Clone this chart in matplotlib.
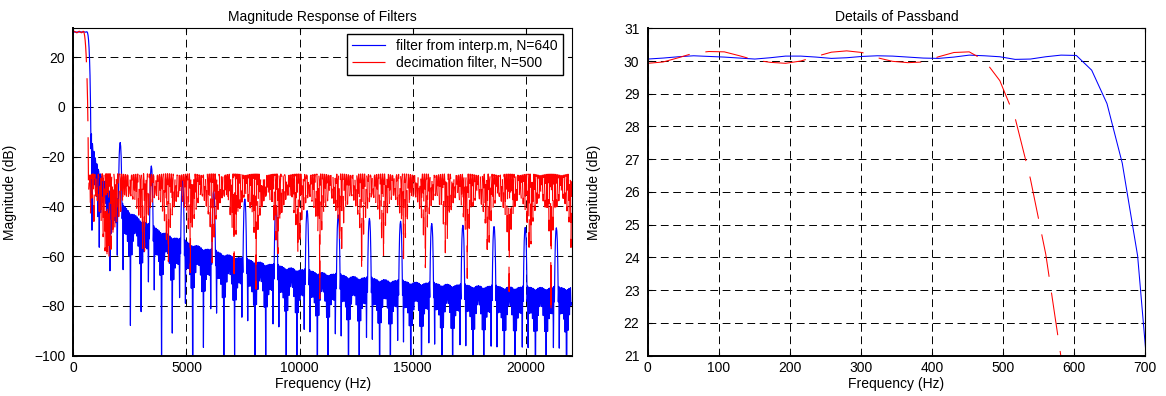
import numpy as np
import matplotlib
matplotlib.use('Agg')
import matplotlib.pyplot as plt

# Sampling rate and number of frequency points (as freqz(b, 1, 1024, fs))
fs = 44100
n_points = 1024

# Filter from interp.m: factor r, half length l, bandlimit alpha -> order 2*l*r = 640
interp_r = 32
interp_l = 10
interp_alpha = 0.9

# Decimation filter: order, pass/stop edges (Hz), gain, stopband weight
decim_order = 500
decim_edges = [470, 660]
decim_gain = 32
decim_stop_weight = 24

# Details of the passband (Hz, dB)
detail_freq = [0, 21.5, 43.1, 64.6, 86.1, 107.7, 129.2, 150.7, 172.3, 193.8,
               215.3, 236.9, 258.4, 279.9, 301.5, 323.0, 344.5, 366.1, 387.6, 409.1,
               430.7, 452.2, 473.7, 495.3, 516.8, 538.3, 559.9, 581.4, 602.9, 624.5,
               646.0, 667.5, 689.1, 710.6]
detail_interp_db = [30.06, 30.09, 30.13, 30.16, 30.14, 30.12, 30.09, 30.06, 30.10, 30.15,
                    30.15, 30.12, 30.08, 30.10, 30.14, 30.16, 30.15, 30.12, 30.09, 30.08,
                    30.12, 30.18, 30.16, 30.13, 30.05, 30.06, 30.13, 30.18, 30.17, 29.72,
                    28.70, 26.88, 24.05, 18.6]
detail_decim_db = [29.93, 29.97, 30.10, 30.24, 30.29, 30.28, 30.16, 30.03, 29.96, 29.93,
                   30.00, 30.14, 30.27, 30.31, 30.26, 30.10, 29.99, 29.95, 29.97, 30.13,
                   30.26, 30.28, 30.02, 29.40, 28.26, 26.40, 24.10, 20.95, 16.5]

labels = ['filter from interp.m, N=640', 'decimation filter, N=500']

plt.rcParams['font.family'] = ['Liberation Sans', 'DejaVu Sans']
plt.rcParams['font.size'] = 10
plt.rcParams['lines.scale_dashes'] = False


# Least squares linear phase FIR (type I), optional Lawson iterations for equiripple
def design_ls_fir(order, bands, desired, weights, step=4.0, lawson_iters=0):
    half = order // 2
    grid, target, wt = [], [], []
    for (f1, f2), d, w in zip(bands, desired, weights):
        f = np.linspace(f1, f2, max(int((f2 - f1) / step), 2))
        grid.append(f)
        target.append(np.full(f.size, float(d)))
        wt.append(np.full(f.size, float(w)))
    grid = np.concatenate(grid)
    target = np.concatenate(target)
    wt = np.concatenate(wt)
    basis = np.cos(np.outer(2 * np.pi * grid / fs, np.arange(half + 1)))
    lawson = np.ones(grid.size)
    for _ in range(lawson_iters + 1):
        sw = np.sqrt(wt ** 2 * lawson)
        coef = np.linalg.lstsq(basis * sw[:, None], target * sw, rcond=None)[0]
        err = np.abs(wt * (basis @ coef - target))
        lawson = lawson * err
        lawson /= lawson.sum()
    return np.concatenate((coef[:0:-1] / 2, coef[:1], coef[1:] / 2))


def response_db(h):
    H = np.fft.rfft(h, 2 * n_points)[:n_points]
    return 20 * np.log10(np.abs(H) + 1e-10)


# interp.m style filter: passband plus stopbands around multiples of fs/r
band_step = fs / interp_r
edge = interp_alpha * band_step / 2
interp_bands = [(0, edge)] + [(k * band_step - edge, min(k * band_step + edge, fs / 2))
                              for k in range(1, interp_r // 2 + 1)]
h_interp = design_ls_fir(2 * interp_l * interp_r, interp_bands,
                         [interp_r] + [0] * (len(interp_bands) - 1),
                         [1] * len(interp_bands))

# decimation filter, near equiripple
h_decim = design_ls_fir(decim_order, [(0, decim_edges[0]), (decim_edges[1], fs / 2)],
                        [decim_gain, 0], [1, decim_stop_weight], step=5.0, lawson_iters=30)

freq = np.arange(n_points) * fs / (2 * n_points)
interp_db = response_db(h_interp)
decim_db = response_db(h_decim)


def style_axes(ax):
    ax.grid(True, color='k', linestyle=(0, (5.6, 3.3)), linewidth=0.7)
    ax.tick_params(direction='in', top=True, right=True, length=3, width=0.8, labelsize=10)
    ax.tick_params(axis='y', pad=6)
    ax.tick_params(axis='x', pad=4)
    for side in ['left', 'bottom']:
        ax.spines[side].set_linewidth(1.4)
    for side in ['top', 'right']:
        ax.spines[side].set_linewidth(0.8)
    ax.set_axisbelow(True)


fig = plt.figure(figsize=(11.66, 3.96), dpi=100)

# Left: full magnitude response
ax1 = fig.add_axes([0.0630, 0.1018, 0.4275, 0.8268])
ax1.plot(freq, interp_db, color='#0000ff', linewidth=0.85, label=labels[0])
ax1.plot(freq, decim_db, color='#ff0000', linewidth=0.85, dashes=(31, 11.5), label=labels[1])
ax1.set_xlim(0, fs / 2)
ax1.set_ylim(-100, 31.6)
ax1.set_xticks([0, 5000, 10000, 15000, 20000])
ax1.set_yticks([-100, -80, -60, -40, -20, 0, 20])
ax1.set_title('Magnitude Response of Filters', fontsize=10, pad=5)
ax1.set_xlabel('Frequency (Hz)')
ax1.set_ylabel('Magnitude (dB)')
ax1.xaxis.set_label_coords(0.5, -0.066)
ax1.yaxis.set_label_coords(-0.113, 0.5)
style_axes(ax1)
leg = ax1.legend(loc='upper right', bbox_to_anchor=(0.982, 0.9826), borderaxespad=0,
                 fancybox=False, framealpha=1, edgecolor='k', handlelength=2.4,
                 handletextpad=0.8, labelspacing=0.25, borderpad=0.35, fontsize=10)
leg.get_frame().set_linewidth(1.0)

# Right: details of passband
ax2 = fig.add_axes([0.5555, 0.1018, 0.4268, 0.8268])
ax2.plot(detail_freq, detail_interp_db, color='#0000ff', linewidth=0.75)
ax2.plot(detail_freq[:len(detail_decim_db)], detail_decim_db, color='#ff0000',
         linewidth=0.75, dashes=(31, 11.5))
ax2.set_xlim(0, 700)
ax2.set_ylim(21, 31)
ax2.set_xticks(range(0, 701, 100))
ax2.set_yticks(range(21, 32))
ax2.set_title('Details of Passband', fontsize=10, pad=5)
ax2.set_xlabel('Frequency (Hz)')
ax2.set_ylabel('Magnitude (dB)')
ax2.xaxis.set_label_coords(0.5, -0.066)
ax2.yaxis.set_label_coords(-0.094, 0.5)
style_axes(ax2)

fig.savefig('out.png', dpi=100)
